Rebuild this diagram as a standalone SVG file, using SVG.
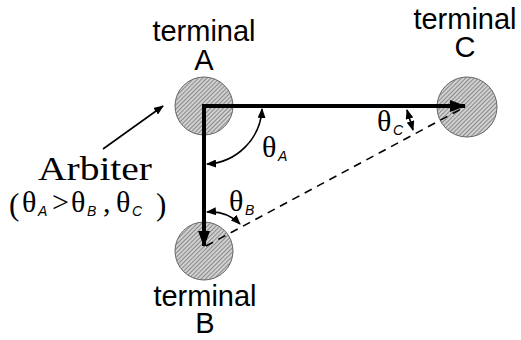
<svg xmlns="http://www.w3.org/2000/svg" width="521" height="340" viewBox="0 0 521 340">
<style>
.lbl{font-family:"Liberation Sans",Arial,sans-serif;font-size:29px;fill:#000;text-anchor:middle}
.th{font-family:"Liberation Serif","Times New Roman",serif;font-size:30px;fill:#000}
.sub{font-family:"Liberation Sans",Arial,sans-serif;font-style:italic;font-size:14px;fill:#000}
.ser{font-family:"Liberation Serif","Times New Roman",serif;fill:#000}
.term{fill:url(#hatch);stroke:#666;stroke-width:1}
.thick{stroke:#000;stroke-width:4;fill:none}
.thin{stroke:#000;stroke-width:1.6;fill:none}
</style>
<defs>
<pattern id="hatch" patternUnits="userSpaceOnUse" width="3" height="3" patternTransform="rotate(45)">
<rect width="3" height="3" fill="#d0d0d0"/>
<line x1="0" y1="0" x2="0" y2="3" stroke="#444" stroke-width="1"/>
</pattern>
<marker id="big" markerUnits="userSpaceOnUse" markerWidth="16" markerHeight="12" refX="15" refY="6" orient="auto">
<path d="M0,0 L16,6 L0,12 Z" fill="#000"/>
</marker>
<marker id="sm" markerUnits="userSpaceOnUse" markerWidth="10" markerHeight="8" refX="9" refY="4" orient="auto-start-reverse">
<path d="M0,0 L10,4 L0,8 Z" fill="#000"/>
</marker>
</defs>
<rect width="521" height="340" fill="#fff"/>
<g id="terminalA">
<circle class="term" cx="204" cy="106" r="29"/>
<text class="lbl" x="204" y="41">terminal</text>
<text class="lbl" x="204" y="70">A</text>
</g>
<g id="terminalC">
<circle class="term" cx="467" cy="107" r="30"/>
<text class="lbl" x="465" y="29">terminal</text>
<text class="lbl" x="465" y="57">C</text>
</g>
<g id="terminalB">
<circle class="term" cx="204" cy="251" r="29"/>
<text class="lbl" x="205" y="306">terminal</text>
<text class="lbl" x="205" y="333">B</text>
</g>
<g id="arbiter">
<text class="ser" x="95" y="180" font-size="33" text-anchor="middle" textLength="114" lengthAdjust="spacingAndGlyphs">Arbiter</text>
<text class="ser" font-size="31" x="9" y="215">(</text>
<text class="th" x="22" y="212">θ</text><text class="sub" x="38" y="216">A</text>
<text class="ser" font-size="30" x="52" y="212">&gt;</text>
<text class="th" x="71" y="212">θ</text><text class="sub" x="87" y="216">B</text>
<text class="ser" font-size="30" x="103" y="212">,</text>
<text class="th" x="116" y="212">θ</text><text class="sub" x="132" y="216">C</text>
<text class="ser" font-size="31" x="156" y="215">)</text>
</g>
<g id="angle-labels">
<text class="th" x="262" y="157">θ</text><text class="sub" x="278" y="161">A</text>
<text class="th" x="229" y="211">θ</text><text class="sub" x="245" y="215">B</text>
<text class="th" x="377" y="131">θ</text><text class="sub" x="393" y="135">C</text>
</g>
<g id="connectors">
<line class="thick" x1="204" y1="106" x2="465" y2="106" marker-end="url(#big)"/>
<line class="thick" x1="204" y1="104" x2="204" y2="246" marker-end="url(#big)"/>
<line class="thin" x1="206" y1="246" x2="463" y2="108" stroke-dasharray="8 6"/>
<line class="thin" x1="103" y1="149" x2="163" y2="106" marker-end="url(#sm)"/>
<path class="thin" d="M207,164 A58,58 0 0 0 262,109" marker-start="url(#sm)" marker-end="url(#sm)"/>
<path class="thin" d="M207,212 A42,42 0 0 1 240,224" marker-start="url(#sm)" marker-end="url(#sm)"/>
<line class="thin" x1="407" y1="110" x2="413" y2="130" marker-start="url(#sm)" marker-end="url(#sm)"/>
</g>
</svg>
